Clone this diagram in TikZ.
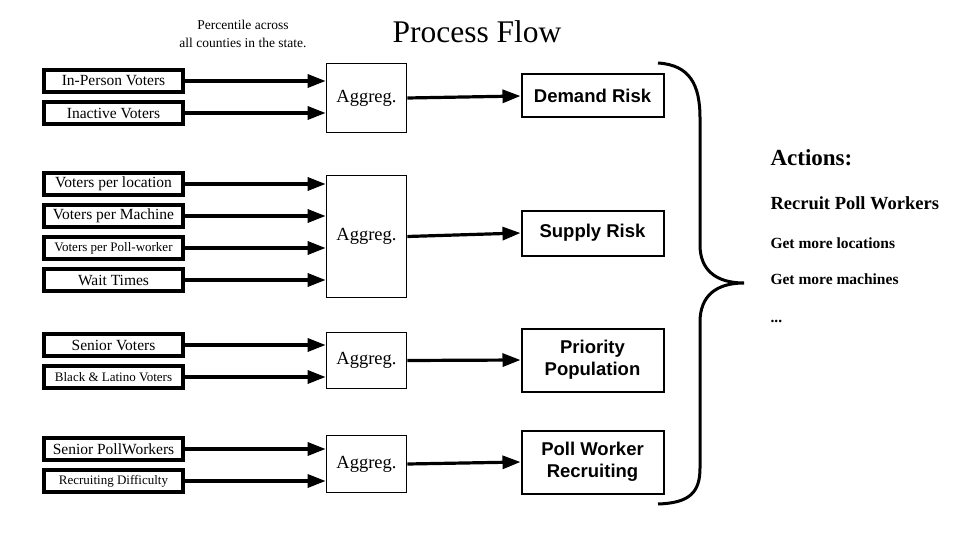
\documentclass[tikz,border=0pt]{standalone}
\usepackage{fontspec}
\setmainfont{Liberation Serif}
\setsansfont{Liberation Sans}
\usetikzlibrary{arrows.meta,calc}

\begin{document}
\begin{tikzpicture}[x=1pt,y=-1pt]
			\tikzstyle{inbox}=[draw, rectangle, line width=3.6pt, minimum width=139pt, minimum height=22pt, inner sep=0pt, font=\fontsize{15.5}{15.5}\selectfont]
			\tikzstyle{small}=[font=\fontsize{13}{13}\selectfont]
			\tikzstyle{agg}=[draw, rectangle, line width=1.7pt, minimum width=80pt, inner sep=0pt, font=\fontsize{18.5}{18.5}\selectfont]
			\tikzstyle{outbox}=[draw, rectangle, line width=2pt, minimum width=142pt, inner sep=0pt, align=center, font=\sffamily\bfseries\fontsize{18.5}{22}\selectfont]
			\tikzstyle{feed}=[line width=3.2pt, -{Triangle[length=18pt,width=13pt]}]
			\tikzstyle{act}=[anchor=west, font=\bfseries\fontsize{15.5}{15.5}\selectfont]
			\useasboundingbox (0,0) rectangle (960,540);
			% title and note
			\node[font=\fontsize{31.5}{31.5}\selectfont] (title) at (477,32) {Process Flow};
			\node[align=center, font=\fontsize{13.5}{18}\selectfont] (note) at (243,34) {Percentile across\\all counties in the state.};
			% inputs
			\node[inbox] (inperson) at (113.5,81) {In-Person Voters};
			\node[inbox] (inactive) at (113.5,113) {Inactive Voters};
			\node[inbox] (perloc) at (113.5,184) {Voters per location};
			\node[inbox] (permach) at (113.5,216) {Voters per Machine};
			\node[inbox, small] (perworker) at (113.5,248) {Voters per Poll-worker};
			\node[inbox] (wait) at (113.5,280) {Wait Times};
			\node[inbox] (senior) at (113.5,345) {Senior Voters};
			\node[inbox, small] (blacklat) at (113.5,377) {Black \& Latino Voters};
			\node[inbox] (seniorpw) at (113.5,449) {Senior PollWorkers};
			\node[inbox, small] (recdiff) at (113.5,481) {Recruiting Difficulty};
			% aggregators
			\node[agg, minimum height=69pt] (agg1) at (366.5,98) {Aggreg.};
			\node[agg, minimum height=122pt] (agg2) at (366.5,236.5) {Aggreg.};
			\node[agg, minimum height=56pt] (agg3) at (366.5,360.5) {Aggreg.};
			\node[agg, minimum height=57pt] (agg4) at (366.5,464) {Aggreg.};
			% outputs
			\node[outbox, minimum height=43pt] (demand) at (592.5,96) {Demand Risk};
			\node[outbox, minimum height=45pt] (supply) at (592.5,233) {Supply Risk};
			\node[outbox, minimum height=63pt] (priority) at (592.5,360) {Priority\\Population};
			\node[outbox, minimum height=63pt] (recruit) at (592.5,462) {Poll Worker\\Recruiting};
			% feeds
			\foreach \i/\a in {inperson/agg1,inactive/agg1,perloc/agg2,permach/agg2,perworker/agg2,wait/agg2,senior/agg3,blacklat/agg3,seniorpw/agg4,recdiff/agg4}
				\draw[feed] (\i.east) -- (\i.east -| \a.west);
			\draw[feed] (agg1.east) -- (demand.west);
			\draw[feed] (agg2.east) -- (supply.west);
			\draw[feed] (agg3.east) -- (priority.west);
			\draw[feed] (agg4.east) -- (recruit.west);
			% brace
			\coordinate (tip) at (744,283);
			\draw[line width=3pt] (658,63) .. controls (690,65) and (700,85) .. (700,118) -- (700,245)
				.. controls (700,270) and (716,283) .. (tip)
				.. controls (716,283) and (700,296) .. (700,322) -- (700,468)
				.. controls (700,492) and (690,503) .. (658,504);
			% actions
			\node[anchor=west, font=\bfseries\fontsize{23}{23}\selectfont] (actions) at (767,158) {Actions:};
			\node[act, font=\bfseries\fontsize{18.5}{18.5}\selectfont] (recruitpw) at (767,203) {Recruit Poll Workers};
			\node[act] (locations) at (767,243) {Get more locations};
			\node[act] (machines) at (767,279) {Get more machines};
			\node[act] (more) at (767,321) {...};
		\end{tikzpicture}
\end{document}
